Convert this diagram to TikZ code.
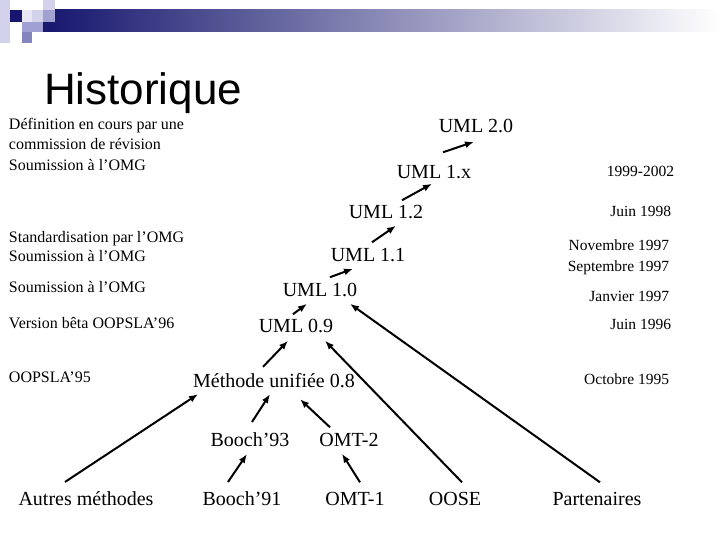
\documentclass[tikz,border=0pt]{standalone}
\usepackage{fontspec}
\setmainfont{Liberation Serif}
\newfontfamily\titlefont{Liberation Sans}
\usetikzlibrary{arrows.meta}
\definecolor{navy}{HTML}{16166E}
\definecolor{lavpale}{HTML}{E6E6F4}
\definecolor{lavlight}{HTML}{D2D2EA}
\definecolor{lavmid}{HTML}{A0A0D2}
\definecolor{lavdark}{HTML}{8484BE}

\begin{document}
\begin{tikzpicture}[x=1pt,y=-1pt,>={Latex[length=9pt,width=7pt]},line width=2pt]

		\tikzstyle{every node}=[inner sep=2pt]
		\tikzstyle{version}=[font=\fontsize{20}{24}\selectfont]
		\tikzstyle{remark}=[font=\fontsize{16}{18}\selectfont,inner sep=0pt,anchor=base west]
		\tikzstyle{date}=[font=\fontsize{15.5}{18}\selectfont,inner sep=0pt,anchor=base east]

		\fill[white] (0,0) rectangle (720,540);
		\useasboundingbox (0,0) rectangle (720,540);

		% header
		\shade[left color=navy,right color=white] (43,10) rectangle (720,32);
		\fill[lavlight] (0,0) rectangle (10,43);
		\fill[lavlight] (43,0) rectangle (55,10);
		\fill[lavpale] (22,10) rectangle (32,22);
		\fill[lavlight] (32,10) rectangle (43,22);
		\fill[navy] (10,10) rectangle (22,22);
		\fill[lavmid] (43,10) rectangle (55,22);
		\fill[lavmid] (22,22) rectangle (43,32);
		\fill[lavdark] (22,32) rectangle (32,43);

		\node (title) [anchor=base west,inner sep=0pt,font=\titlefont\fontsize{44}{50}\selectfont] at (43,105) {Historique};

		% versions
		\node (uml_20) [version] at (476,126) {UML 2.0};
		\node (uml_1x) [version] at (434,172) {UML 1.x};
		\node (uml_12) [version] at (386,212) {UML 1.2};
		\node (uml_11) [version] at (368,255) {UML 1.1};
		\node (uml_10) [version] at (320,290) {UML 1.0};
		\node (uml_09) [version] at (296,326) {UML 0.9};
		\node (uml_08) [version] at (274,381) {Méthode unifiée 0.8};
		\node (booch_93) [version] at (250,440) {Booch’93};
		\node (omt_2) [version] at (349,440) {OMT-2};
		\node (autres) [version] at (86,499) {Autres méthodes};
		\node (booch_91) [version] at (242,499) {Booch’91};
		\node (omt_1) [version] at (355,499) {OMT-1};
		\node (oose) [version] at (455,499) {OOSE};
		\node (partenaires) [version] at (597,499) {Partenaires};

		% events
		\node (ev_1) [remark] at (8,130) {Définition en cours par une};
		\node (ev_2) [remark] at (8,150) {commission de révision};
		\node (ev_3) [remark] at (8,171) {Soumission à l’OMG};
		\node (ev_4) [remark] at (8,242) {Standardisation par l’OMG};
		\node (ev_5) [remark] at (8,261) {Soumission à l’OMG};
		\node (ev_6) [remark] at (8,292) {Soumission à l’OMG};
		\node (ev_7) [remark] at (8,328) {Version bêta OOPSLA’96};
		\node (ev_8) [remark] at (8,382) {OOPSLA’95};

		% dates
		\node (d_1) [date] at (675,177) {1999-2002};
		\node (d_2) [date] at (672,216) {Juin 1998};
		\node (d_3) [date] at (670,251) {Novembre 1997};
		\node (d_4) [date] at (670,271) {Septembre 1997};
		\node (d_5) [date] at (670,301) {Janvier 1997};
		\node (d_6) [date] at (672,329) {Juin 1996};
		\node (d_7) [date] at (670,384) {Octobre 1995};

		\draw[->] ([shift={(9,-10)}]uml_1x.north) -- ([shift={(-2,6)}]uml_20.south);
		\draw[->] ([shift={(16,-2)}]uml_12.north) -- ([shift={(-2,2)}]uml_1x.south);
		\draw[->] ([shift={(4,-3)}]uml_11.north) -- ([shift={(10,4)}]uml_12.south);
		\draw[->] ([shift={(10,-3)}]uml_10.north) -- ([shift={(-15,4)}]uml_11.south);
		\draw[->] ([shift={(-3,-2)}]uml_09.north) -- ([shift={(-13,4)}]uml_10.south);
		\draw[->] ([shift={(-11,-4)}]uml_08.north) -- ([shift={(-8,5)}]uml_09.south);
		\draw[->] ([shift={(7,-7)}]oose.north) -- ([shift={(29,5)}]uml_09.south);
		\draw[->] ([shift={(3,-7)}]partenaires.north) -- ([shift={(30,4)}]uml_10.south);
		\draw[->] ([shift={(-21,-7)}]autres.north) -- ([shift={(-76,3)}]uml_08.south);
		\draw[->] ([shift={(2,-8)}]booch_93.north) -- ([shift={(-4,3)}]uml_08.south);
		\draw[->] ([shift={(-19,-3)}]omt_2.north) -- ([shift={(26,8)}]uml_08.south);
		\draw[->] ([shift={(-14,-7)}]booch_91.north) -- ([shift={(-3,4)}]booch_93.south);
		\draw[->] ([shift={(5,-7)}]omt_1.north) -- ([shift={(-7,4)}]omt_2.south);

\end{tikzpicture}
\end{document}
